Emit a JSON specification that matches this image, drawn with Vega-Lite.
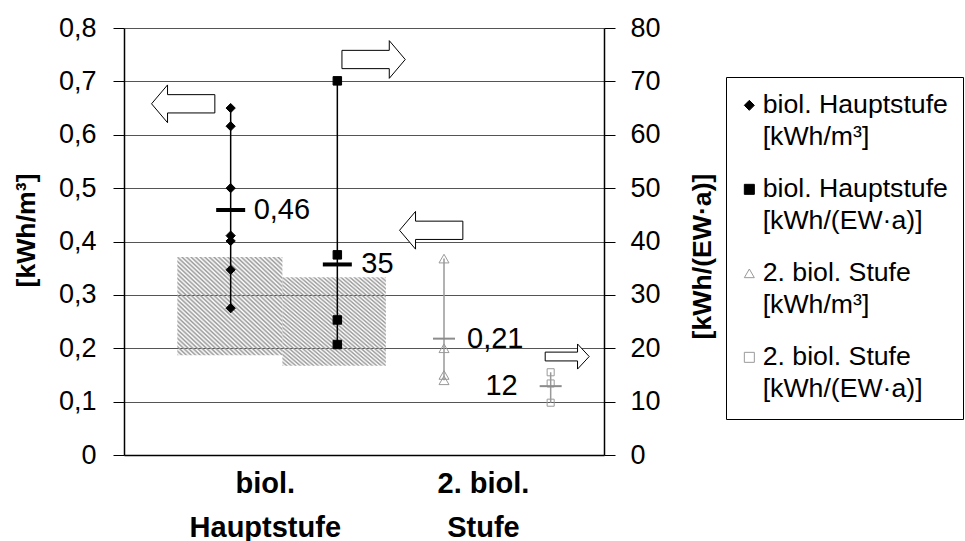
{
  "$schema": "https://vega.github.io/schema/vega-lite/v6.json",
  "width": 480,
  "height": 427,
  "autosize": {"type": "none"},
  "padding": {"left": 124, "top": 28, "right": 361, "bottom": 86},
  "background": "white",
  "config": {
    "view": {"stroke": null},
    "font": "Liberation Sans",
    "point": {"opacity": 1},
    "tick": {"opacity": 1},
    "style": {"guide-label": {"lineHeight": 32}}
  },
  "datasets": {
    "points": [
      {"series": "biol. Hauptstufe [kWh/m³]", "x": 2, "value": 0.65},
      {"series": "biol. Hauptstufe [kWh/m³]", "x": 2, "value": 0.616},
      {"series": "biol. Hauptstufe [kWh/m³]", "x": 2, "value": 0.5},
      {"series": "biol. Hauptstufe [kWh/m³]", "x": 2, "value": 0.411},
      {"series": "biol. Hauptstufe [kWh/m³]", "x": 2, "value": 0.401},
      {"series": "biol. Hauptstufe [kWh/m³]", "x": 2, "value": 0.347},
      {"series": "biol. Hauptstufe [kWh/m³]", "x": 2, "value": 0.275},
      {"series": "biol. Hauptstufe [kWh/(EW·a)]", "x": 4, "value": 70.1},
      {"series": "biol. Hauptstufe [kWh/(EW·a)]", "x": 4, "value": 37.5},
      {"series": "biol. Hauptstufe [kWh/(EW·a)]", "x": 4, "value": 25.3},
      {"series": "biol. Hauptstufe [kWh/(EW·a)]", "x": 4, "value": 20.7},
      {"series": "2. biol. Stufe [kWh/m³]", "x": 6, "value": 0.368},
      {"series": "2. biol. Stufe [kWh/m³]", "x": 6, "value": 0.2},
      {"series": "2. biol. Stufe [kWh/m³]", "x": 6, "value": 0.15},
      {"series": "2. biol. Stufe [kWh/m³]", "x": 6, "value": 0.14},
      {"series": "2. biol. Stufe [kWh/(EW·a)]", "x": 8, "value": 15.5},
      {"series": "2. biol. Stufe [kWh/(EW·a)]", "x": 8, "value": 13.4},
      {"series": "2. biol. Stufe [kWh/(EW·a)]", "x": 8, "value": 9.8}
    ],
    "means": [
      {"series": "biol. Hauptstufe [kWh/m³]", "x": 2, "mean": 0.459, "label": "0,46"},
      {"series": "biol. Hauptstufe [kWh/(EW·a)]", "x": 4, "mean": 35.7, "label": "35"},
      {"series": "2. biol. Stufe [kWh/m³]", "x": 6, "mean": 0.218, "label": "0,21"},
      {"series": "2. biol. Stufe [kWh/(EW·a)]", "x": 8, "mean": 12.9, "label": "12"}
    ],
    "boxes": [
      {"x": 1.0, "x2": 2.97, "lo": 0.187, "hi": 0.371},
      {"x": 2.97, "x2": 4.91, "lo": 0.167, "hi": 0.333}
    ],
    "arrows": [
      {"series": "biol. Hauptstufe [kWh/m³]", "dir": "left", "x": 1.11, "y": 0.658},
      {"series": "biol. Hauptstufe [kWh/(EW·a)]", "dir": "right", "x": 4.68, "y": 0.741},
      {"series": "2. biol. Stufe [kWh/m³]", "dir": "left", "x": 5.76, "y": 0.421},
      {"series": "2. biol. Stufe [kWh/(EW·a)]", "dir": "right", "x": 8.31, "y": 0.1845}
    ]
  },
  "encoding": {
    "x": {
      "field": "x",
      "type": "quantitative",
      "scale": {"domain": [0, 9], "nice": false, "zero": false},
      "axis": {
        "values": [2.64, 6.73],
        "labelExpr": "datum.value < 4 ? ['biol.', 'Hauptstufe'] : ['2. biol.', 'Stufe']",
        "title": null,
        "grid": false,
        "ticks": false,
        "tickSize": 0,
        "domain": true,
        "domainColor": "black",
        "domainWidth": 1.5,
        "labelFontSize": 29,
        "labelFontWeight": "bold",
        "labelColor": "black",
        "labelLineHeight": 44,
        "labelBaseline": "middle",
        "labelPadding": 28,
        "labelOverlap": false,
        "labelFlush": false,
        "labelBound": false,
        "labelAlign": "center"
      }
    }
  },
  "resolve": {"scale": {"y": "independent"}, "axis": {"y": "independent"}},
  "layer": [
    {
      "layer": [
        {
          "data": {"name": "boxes"},
          "mark": {
            "type": "rect",
            "strokeWidth": 0,
            "fill": {
              "gradient": "linear",
              "x1": 0, "y1": 1, "x2": 1, "y2": 0,
              "stops": [
                {"offset": 0, "color": "#999"}, {"offset": 0.0109, "color": "rgba(153,153,153,0)"},
                {"offset": 0.0217, "color": "#999"}, {"offset": 0.0326, "color": "rgba(153,153,153,0)"},
                {"offset": 0.0435, "color": "#999"}, {"offset": 0.0543, "color": "rgba(153,153,153,0)"},
                {"offset": 0.0652, "color": "#999"}, {"offset": 0.0761, "color": "rgba(153,153,153,0)"},
                {"offset": 0.0870, "color": "#999"}, {"offset": 0.0978, "color": "rgba(153,153,153,0)"},
                {"offset": 0.1087, "color": "#999"}, {"offset": 0.1196, "color": "rgba(153,153,153,0)"},
                {"offset": 0.1304, "color": "#999"}, {"offset": 0.1413, "color": "rgba(153,153,153,0)"},
                {"offset": 0.1522, "color": "#999"}, {"offset": 0.1630, "color": "rgba(153,153,153,0)"},
                {"offset": 0.1739, "color": "#999"}, {"offset": 0.1848, "color": "rgba(153,153,153,0)"},
                {"offset": 0.1957, "color": "#999"}, {"offset": 0.2065, "color": "rgba(153,153,153,0)"},
                {"offset": 0.2174, "color": "#999"}, {"offset": 0.2283, "color": "rgba(153,153,153,0)"},
                {"offset": 0.2391, "color": "#999"}, {"offset": 0.2500, "color": "rgba(153,153,153,0)"},
                {"offset": 0.2609, "color": "#999"}, {"offset": 0.2717, "color": "rgba(153,153,153,0)"},
                {"offset": 0.2826, "color": "#999"}, {"offset": 0.2935, "color": "rgba(153,153,153,0)"},
                {"offset": 0.3043, "color": "#999"}, {"offset": 0.3152, "color": "rgba(153,153,153,0)"},
                {"offset": 0.3261, "color": "#999"}, {"offset": 0.3370, "color": "rgba(153,153,153,0)"},
                {"offset": 0.3478, "color": "#999"}, {"offset": 0.3587, "color": "rgba(153,153,153,0)"},
                {"offset": 0.3696, "color": "#999"}, {"offset": 0.3804, "color": "rgba(153,153,153,0)"},
                {"offset": 0.3913, "color": "#999"}, {"offset": 0.4022, "color": "rgba(153,153,153,0)"},
                {"offset": 0.4130, "color": "#999"}, {"offset": 0.4239, "color": "rgba(153,153,153,0)"},
                {"offset": 0.4348, "color": "#999"}, {"offset": 0.4457, "color": "rgba(153,153,153,0)"},
                {"offset": 0.4565, "color": "#999"}, {"offset": 0.4674, "color": "rgba(153,153,153,0)"},
                {"offset": 0.4783, "color": "#999"}, {"offset": 0.4891, "color": "rgba(153,153,153,0)"},
                {"offset": 0.5000, "color": "#999"}, {"offset": 0.5109, "color": "rgba(153,153,153,0)"},
                {"offset": 0.5217, "color": "#999"}, {"offset": 0.5326, "color": "rgba(153,153,153,0)"},
                {"offset": 0.5435, "color": "#999"}, {"offset": 0.5543, "color": "rgba(153,153,153,0)"},
                {"offset": 0.5652, "color": "#999"}, {"offset": 0.5761, "color": "rgba(153,153,153,0)"},
                {"offset": 0.5870, "color": "#999"}, {"offset": 0.5978, "color": "rgba(153,153,153,0)"},
                {"offset": 0.6087, "color": "#999"}, {"offset": 0.6196, "color": "rgba(153,153,153,0)"},
                {"offset": 0.6304, "color": "#999"}, {"offset": 0.6413, "color": "rgba(153,153,153,0)"},
                {"offset": 0.6522, "color": "#999"}, {"offset": 0.6630, "color": "rgba(153,153,153,0)"},
                {"offset": 0.6739, "color": "#999"}, {"offset": 0.6848, "color": "rgba(153,153,153,0)"},
                {"offset": 0.6957, "color": "#999"}, {"offset": 0.7065, "color": "rgba(153,153,153,0)"},
                {"offset": 0.7174, "color": "#999"}, {"offset": 0.7283, "color": "rgba(153,153,153,0)"},
                {"offset": 0.7391, "color": "#999"}, {"offset": 0.7500, "color": "rgba(153,153,153,0)"},
                {"offset": 0.7609, "color": "#999"}, {"offset": 0.7717, "color": "rgba(153,153,153,0)"},
                {"offset": 0.7826, "color": "#999"}, {"offset": 0.7935, "color": "rgba(153,153,153,0)"},
                {"offset": 0.8043, "color": "#999"}, {"offset": 0.8152, "color": "rgba(153,153,153,0)"},
                {"offset": 0.8261, "color": "#999"}, {"offset": 0.8370, "color": "rgba(153,153,153,0)"},
                {"offset": 0.8478, "color": "#999"}, {"offset": 0.8587, "color": "rgba(153,153,153,0)"},
                {"offset": 0.8696, "color": "#999"}, {"offset": 0.8804, "color": "rgba(153,153,153,0)"},
                {"offset": 0.8913, "color": "#999"}, {"offset": 0.9022, "color": "rgba(153,153,153,0)"},
                {"offset": 0.9130, "color": "#999"}, {"offset": 0.9239, "color": "rgba(153,153,153,0)"},
                {"offset": 0.9348, "color": "#999"}, {"offset": 0.9457, "color": "rgba(153,153,153,0)"},
                {"offset": 0.9565, "color": "#999"}, {"offset": 0.9674, "color": "rgba(153,153,153,0)"},
                {"offset": 0.9783, "color": "#999"}, {"offset": 0.9891, "color": "rgba(153,153,153,0)"},
                {"offset": 1, "color": "#999"}
              ]
            }
          },
          "encoding": {
            "x2": {"field": "x2"},
            "y": {
              "field": "lo",
              "type": "quantitative",
              "scale": {"domain": [0, 0.8], "nice": false, "zero": true},
              "axis": {
                "orient": "left",
                "values": [0, 0.1, 0.2, 0.3, 0.4, 0.5, 0.6, 0.7, 0.8],
                "labelExpr": "replace(format(datum.value, '.1~f'), '.', ',')",
                "title": "[kWh/m³]",
                "titleFontSize": 26.67,
                "titleFontWeight": "bold",
                "titleColor": "black",
                "titleAngle": -90,
                "titleX": -98,
                "titleY": 202,
                "titleAlign": "center",
                "titleBaseline": "middle",
                "grid": true,
                "gridColor": "#555555",
                "gridWidth": 1,
                "tickColor": "black",
                "tickSize": 11,
                "tickWidth": 1,
                "domainColor": "black",
                "domainWidth": 1.5,
                "labelFontSize": 27,
                "labelColor": "black",
                "labelPadding": 17
              }
            },
            "y2": {"field": "hi"}
          }
        },
        {
          "data": {"name": "points"},
          "transform": [{"filter": {"field": "series", "equal": "biol. Hauptstufe [kWh/m³]"}}],
          "mark": {"type": "rule", "color": "black", "strokeWidth": 1.5},
          "encoding": {
            "y": {"aggregate": "min", "field": "value", "type": "quantitative", "scale": {"domain": [0, 0.8], "nice": false, "zero": true}},
            "y2": {"aggregate": "max", "field": "value"}
          }
        },
        {
          "data": {"name": "points"},
          "transform": [{"filter": {"field": "series", "equal": "2. biol. Stufe [kWh/m³]"}}],
          "mark": {"type": "rule", "color": "#999999", "strokeWidth": 1.5},
          "encoding": {
            "y": {"aggregate": "min", "field": "value", "type": "quantitative", "scale": {"domain": [0, 0.8], "nice": false, "zero": true}},
            "y2": {"aggregate": "max", "field": "value"}
          }
        },
        {
          "data": {"name": "points"},
          "transform": [{"filter": {"field": "series", "equal": "biol. Hauptstufe [kWh/m³]"}}],
          "mark": {"type": "point", "filled": true, "size": 85, "strokeWidth": 1, "opacity": 1},
          "encoding": {
            "y": {"field": "value", "type": "quantitative", "scale": {"domain": [0, 0.8], "nice": false, "zero": true}},
            "shape": {
              "field": "series", "type": "nominal",
              "scale": {"domain": ["biol. Hauptstufe [kWh/m³]", "biol. Hauptstufe [kWh/(EW·a)]", "2. biol. Stufe [kWh/m³]", "2. biol. Stufe [kWh/(EW·a)]"], "range": ["diamond", "square", "triangle-up", "square"]},
              "legend": {
                "orient": "none",
                "legendX": 602,
                "legendY": 49,
                "title": null,
                "strokeColor": "black",
                "fillColor": "white",
                "padding": 15,
                "labelFontSize": 26.67,
                "labelColor": "black",
                "labelBaseline": "middle",
                "labelOffset": 0,
                "labelLimit": 400,
                "symbolSize": 100,
                "symbolStrokeWidth": 1,
                "symbolOffset": -5,
                "rowPadding": 24,
                "labelExpr": "[slice(datum.label, 0, indexof(datum.label, ' [')), slice(datum.label, indexof(datum.label, ' [') + 1)]"
              }
            },
            "fill": {
              "field": "series", "type": "nominal",
              "scale": {"domain": ["biol. Hauptstufe [kWh/m³]", "biol. Hauptstufe [kWh/(EW·a)]", "2. biol. Stufe [kWh/m³]", "2. biol. Stufe [kWh/(EW·a)]"], "range": ["black", "black", "transparent", "transparent"]}
            },
            "stroke": {
              "field": "series", "type": "nominal",
              "scale": {"domain": ["biol. Hauptstufe [kWh/m³]", "biol. Hauptstufe [kWh/(EW·a)]", "2. biol. Stufe [kWh/m³]", "2. biol. Stufe [kWh/(EW·a)]"], "range": ["black", "black", "#999999", "#999999"]}
            }
          }
        },
        {
          "data": {"name": "points"},
          "transform": [{"filter": {"field": "series", "equal": "2. biol. Stufe [kWh/m³]"}}],
          "mark": {"type": "point", "filled": true, "size": 100, "strokeWidth": 1, "opacity": 1},
          "encoding": {
            "y": {"field": "value", "type": "quantitative", "scale": {"domain": [0, 0.8], "nice": false, "zero": true}},
            "shape": {
              "field": "series", "type": "nominal",
              "scale": {"domain": ["biol. Hauptstufe [kWh/m³]", "biol. Hauptstufe [kWh/(EW·a)]", "2. biol. Stufe [kWh/m³]", "2. biol. Stufe [kWh/(EW·a)]"], "range": ["diamond", "square", "triangle-up", "square"]}
            },
            "fill": {
              "field": "series", "type": "nominal",
              "scale": {"domain": ["biol. Hauptstufe [kWh/m³]", "biol. Hauptstufe [kWh/(EW·a)]", "2. biol. Stufe [kWh/m³]", "2. biol. Stufe [kWh/(EW·a)]"], "range": ["black", "black", "transparent", "transparent"]}
            },
            "stroke": {
              "field": "series", "type": "nominal",
              "scale": {"domain": ["biol. Hauptstufe [kWh/m³]", "biol. Hauptstufe [kWh/(EW·a)]", "2. biol. Stufe [kWh/m³]", "2. biol. Stufe [kWh/(EW·a)]"], "range": ["black", "black", "#999999", "#999999"]}
            }
          }
        },
        {
          "data": {"name": "means"},
          "transform": [{"filter": {"field": "series", "equal": "biol. Hauptstufe [kWh/m³]"}}],
          "mark": {"type": "tick", "orient": "horizontal", "size": 29, "thickness": 4, "color": "black", "opacity": 1},
          "encoding": {
            "y": {"field": "mean", "type": "quantitative", "scale": {"domain": [0, 0.8], "nice": false, "zero": true}}
          }
        },
        {
          "data": {"name": "means"},
          "transform": [{"filter": {"field": "series", "equal": "2. biol. Stufe [kWh/m³]"}}],
          "mark": {"type": "tick", "orient": "horizontal", "size": 22, "thickness": 2, "color": "#8c8c8c", "opacity": 1},
          "encoding": {
            "y": {"field": "mean", "type": "quantitative", "scale": {"domain": [0, 0.8], "nice": false, "zero": true}}
          }
        },
        {
          "data": {"name": "means"},
          "transform": [{"filter": {"field": "series", "oneOf": ["biol. Hauptstufe [kWh/m³]", "2. biol. Stufe [kWh/m³]"]}}],
          "mark": {"type": "text", "align": "left", "baseline": "middle", "dx": 23, "fontSize": 29, "color": "black"},
          "encoding": {
            "y": {"field": "mean", "type": "quantitative", "scale": {"domain": [0, 0.8], "nice": false, "zero": true}},
            "text": {"field": "label"}
          }
        },
        {
          "data": {"name": "arrows"},
          "transform": [{"filter": {"field": "dir", "equal": "left"}}],
          "mark": {"type": "point", "shape": "M -1 0 L -0.495 -0.596 L -0.495 -0.289 L 1 -0.289 L 1 0.289 L -0.495 0.289 L -0.495 0.596 Z", "size": 4007, "filled": true, "fill": "white", "stroke": "black", "strokeWidth": 1, "opacity": 1},
          "encoding": {
            "y": {"field": "y", "type": "quantitative", "scale": {"domain": [0, 0.8], "nice": false, "zero": true}}
          }
        },
        {
          "data": {"name": "arrows"},
          "transform": [{"filter": {"field": "series", "equal": "biol. Hauptstufe [kWh/(EW·a)]"}}],
          "mark": {"type": "point", "shape": "M 1 0 L 0.495 -0.596 L 0.495 -0.289 L -1 -0.289 L -1 0.289 L 0.495 0.289 L 0.495 0.596 Z", "size": 4007, "filled": true, "fill": "white", "stroke": "black", "strokeWidth": 1, "opacity": 1},
          "encoding": {
            "y": {"field": "y", "type": "quantitative", "scale": {"domain": [0, 0.8], "nice": false, "zero": true}}
          }
        },
        {
          "data": {"name": "arrows"},
          "transform": [{"filter": {"field": "series", "equal": "2. biol. Stufe [kWh/(EW·a)]"}}],
          "mark": {"type": "point", "shape": "M 1 0 L 0.47 -0.57 L 0.47 -0.2 L -1 -0.2 L -1 0.2 L 0.47 0.2 L 0.47 0.57 Z", "size": 1936, "filled": true, "fill": "white", "stroke": "black", "strokeWidth": 1, "opacity": 1},
          "encoding": {
            "y": {"field": "y", "type": "quantitative", "scale": {"domain": [0, 0.8], "nice": false, "zero": true}}
          }
        }
      ]
    },
    {
      "layer": [
        {
          "data": {"name": "points"},
          "transform": [{"filter": {"field": "series", "equal": "biol. Hauptstufe [kWh/(EW·a)]"}}],
          "mark": {"type": "rule", "color": "black", "strokeWidth": 1.5},
          "encoding": {
            "y": {
              "aggregate": "min", "field": "value", "type": "quantitative",
              "scale": {"domain": [0, 80], "nice": false, "zero": true},
              "axis": {
                "orient": "right",
                "values": [0, 10, 20, 30, 40, 50, 60, 70, 80],
                "title": "[kWh/(EW·a)]",
                "titleFontSize": 26.67,
                "titleFontWeight": "bold",
                "titleColor": "black",
                "titleAngle": -90,
                "titleX": 98,
                "titleY": 228,
                "titleAlign": "center",
                "titleBaseline": "middle",
                "grid": false,
                "tickColor": "black",
                "tickSize": 11,
                "tickWidth": 1,
                "domainColor": "black",
                "domainWidth": 1.5,
                "labelFontSize": 27,
                "labelColor": "black",
                "labelPadding": 15
              }
            },
            "y2": {"aggregate": "max", "field": "value"}
          }
        },
        {
          "data": {"name": "points"},
          "transform": [{"filter": {"field": "series", "equal": "2. biol. Stufe [kWh/(EW·a)]"}}],
          "mark": {"type": "rule", "color": "#999999", "strokeWidth": 1.5},
          "encoding": {
            "y": {"aggregate": "min", "field": "value", "type": "quantitative", "scale": {"domain": [0, 80], "nice": false, "zero": true}},
            "y2": {"aggregate": "max", "field": "value"}
          }
        },
        {
          "data": {"name": "points"},
          "transform": [{"filter": {"field": "series", "equal": "biol. Hauptstufe [kWh/(EW·a)]"}}],
          "mark": {"type": "point", "filled": true, "size": 72, "strokeWidth": 1, "opacity": 1},
          "encoding": {
            "y": {"field": "value", "type": "quantitative", "scale": {"domain": [0, 80], "nice": false, "zero": true}},
            "shape": {
              "field": "series", "type": "nominal",
              "scale": {"domain": ["biol. Hauptstufe [kWh/m³]", "biol. Hauptstufe [kWh/(EW·a)]", "2. biol. Stufe [kWh/m³]", "2. biol. Stufe [kWh/(EW·a)]"], "range": ["diamond", "square", "triangle-up", "square"]}
            },
            "fill": {
              "field": "series", "type": "nominal",
              "scale": {"domain": ["biol. Hauptstufe [kWh/m³]", "biol. Hauptstufe [kWh/(EW·a)]", "2. biol. Stufe [kWh/m³]", "2. biol. Stufe [kWh/(EW·a)]"], "range": ["black", "black", "transparent", "transparent"]}
            },
            "stroke": {
              "field": "series", "type": "nominal",
              "scale": {"domain": ["biol. Hauptstufe [kWh/m³]", "biol. Hauptstufe [kWh/(EW·a)]", "2. biol. Stufe [kWh/m³]", "2. biol. Stufe [kWh/(EW·a)]"], "range": ["black", "black", "#999999", "#999999"]}
            }
          }
        },
        {
          "data": {"name": "points"},
          "transform": [{"filter": {"field": "series", "equal": "2. biol. Stufe [kWh/(EW·a)]"}}],
          "mark": {"type": "point", "filled": true, "size": 50, "strokeWidth": 1, "opacity": 1},
          "encoding": {
            "y": {"field": "value", "type": "quantitative", "scale": {"domain": [0, 80], "nice": false, "zero": true}},
            "shape": {
              "field": "series", "type": "nominal",
              "scale": {"domain": ["biol. Hauptstufe [kWh/m³]", "biol. Hauptstufe [kWh/(EW·a)]", "2. biol. Stufe [kWh/m³]", "2. biol. Stufe [kWh/(EW·a)]"], "range": ["diamond", "square", "triangle-up", "square"]}
            },
            "fill": {
              "field": "series", "type": "nominal",
              "scale": {"domain": ["biol. Hauptstufe [kWh/m³]", "biol. Hauptstufe [kWh/(EW·a)]", "2. biol. Stufe [kWh/m³]", "2. biol. Stufe [kWh/(EW·a)]"], "range": ["black", "black", "transparent", "transparent"]}
            },
            "stroke": {
              "field": "series", "type": "nominal",
              "scale": {"domain": ["biol. Hauptstufe [kWh/m³]", "biol. Hauptstufe [kWh/(EW·a)]", "2. biol. Stufe [kWh/m³]", "2. biol. Stufe [kWh/(EW·a)]"], "range": ["black", "black", "#999999", "#999999"]}
            }
          }
        },
        {
          "data": {"name": "means"},
          "transform": [{"filter": {"field": "series", "equal": "biol. Hauptstufe [kWh/(EW·a)]"}}],
          "mark": {"type": "tick", "orient": "horizontal", "size": 29, "thickness": 4, "color": "black", "opacity": 1},
          "encoding": {
            "y": {"field": "mean", "type": "quantitative", "scale": {"domain": [0, 80], "nice": false, "zero": true}}
          }
        },
        {
          "data": {"name": "means"},
          "transform": [{"filter": {"field": "series", "equal": "2. biol. Stufe [kWh/(EW·a)]"}}],
          "mark": {"type": "tick", "orient": "horizontal", "size": 22, "thickness": 2, "color": "#8c8c8c", "opacity": 1},
          "encoding": {
            "y": {"field": "mean", "type": "quantitative", "scale": {"domain": [0, 80], "nice": false, "zero": true}}
          }
        },
        {
          "data": {"name": "means"},
          "transform": [{"filter": {"field": "series", "equal": "biol. Hauptstufe [kWh/(EW·a)]"}}],
          "mark": {"type": "text", "align": "left", "baseline": "middle", "dx": 24, "fontSize": 29, "color": "black"},
          "encoding": {
            "y": {"field": "mean", "type": "quantitative", "scale": {"domain": [0, 80], "nice": false, "zero": true}},
            "text": {"field": "label"}
          }
        },
        {
          "data": {"name": "means"},
          "transform": [{"filter": {"field": "series", "equal": "2. biol. Stufe [kWh/(EW·a)]"}}],
          "mark": {"type": "text", "align": "right", "baseline": "middle", "dx": -33, "fontSize": 29, "color": "black"},
          "encoding": {
            "y": {"field": "mean", "type": "quantitative", "scale": {"domain": [0, 80], "nice": false, "zero": true}},
            "text": {"field": "label"}
          }
        }
      ]
    }
  ]
}
